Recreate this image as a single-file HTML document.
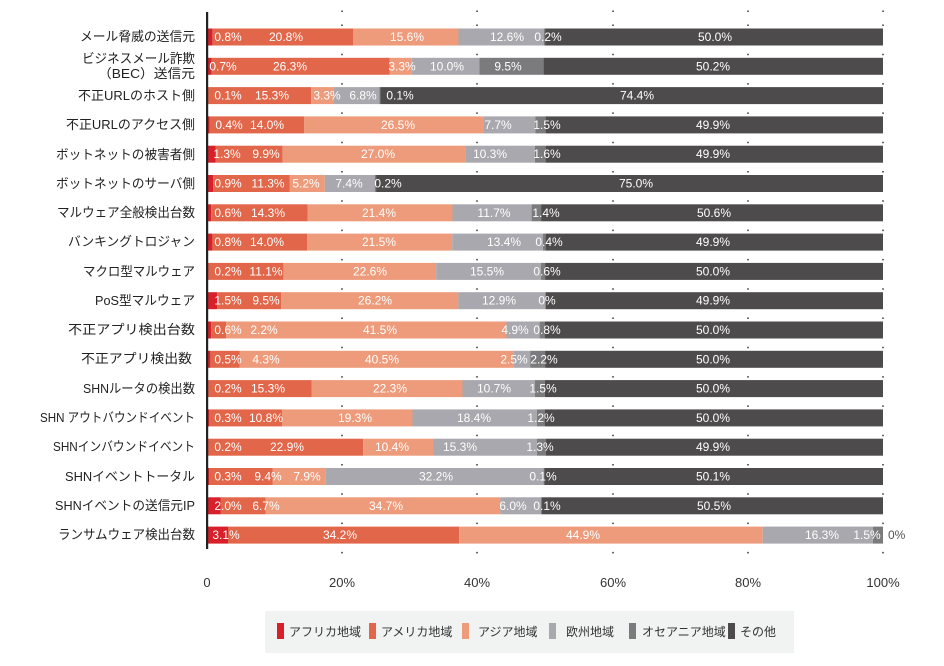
<!DOCTYPE html>
<html><head><meta charset="utf-8"><style>
body{margin:0;background:#fff;}
svg{display:block;font-family:"Liberation Sans","Noto Sans CJK JP",sans-serif;}
.v{fill:#fff;font-size:12px;text-anchor:middle;}
.c{fill:#222;font-size:13px;text-anchor:end;}
.t{fill:#333;font-size:13px;text-anchor:middle;}
.l{fill:#333;font-size:12px;}
</style></head><body>
<svg width="944" height="666" viewBox="0 0 944 666">
<g id="bars">
<g transform="translate(0,28.5)">
<rect x="207" width="5.4" height="17" fill="#d7202a"/><rect x="212.4" width="140.6" height="17" fill="#e2674a"/><rect x="353" width="105.5" height="17" fill="#ed9b7b"/><rect x="458.5" width="85.2" height="17" fill="#a8a8ae"/><rect x="543.7" width="1.4" height="17" fill="#7b7b7e"/><rect x="545.1" width="337.9" height="17" fill="#4d4b4c"/>
<text class="v" y="12.5"><tspan x="228">0.8%</tspan><tspan x="286">20.8%</tspan><tspan x="407">15.6%</tspan><tspan x="507">12.6%</tspan><tspan x="548">0.2%</tspan><tspan x="715">50.0%</tspan></text></g>
<g transform="translate(0,57.8)">
<rect x="207" width="4.7" height="17" fill="#d7202a"/><rect x="211.7" width="177.8" height="17" fill="#e2674a"/><rect x="389.5" width="22.3" height="17" fill="#ed9b7b"/><rect x="411.8" width="67.6" height="17" fill="#a8a8ae"/><rect x="479.4" width="64.2" height="17" fill="#7b7b7e"/><rect x="543.6" width="339.4" height="17" fill="#4d4b4c"/>
<text class="v" y="12.5"><tspan x="223">0.7%</tspan><tspan x="290">26.3%</tspan><tspan x="402">3.3%</tspan><tspan x="447">10.0%</tspan><tspan x="508">9.5%</tspan><tspan x="713">50.2%</tspan></text></g>
<g transform="translate(0,87.1)">
<rect x="207" width="0.7" height="17" fill="#d7202a"/><rect x="207.7" width="103.4" height="17" fill="#e2674a"/><rect x="311.1" width="22.3" height="17" fill="#ed9b7b"/><rect x="333.4" width="46" height="17" fill="#a8a8ae"/><rect x="379.4" width="1" height="17" fill="#7b7b7e"/><rect x="380.4" width="502.6" height="17" fill="#4d4b4c"/>
<text class="v" y="12.5"><tspan x="228">0.1%</tspan><tspan x="272">15.3%</tspan><tspan x="327">3.3%</tspan><tspan x="363">6.8%</tspan><tspan x="400">0.1%</tspan><tspan x="637">74.4%</tspan></text></g>
<g transform="translate(0,116.4)">
<rect x="207" width="2.7" height="17" fill="#d7202a"/><rect x="209.7" width="94.6" height="17" fill="#e2674a"/><rect x="304.3" width="179.1" height="17" fill="#ed9b7b"/><rect x="483.4" width="52.1" height="17" fill="#a8a8ae"/><rect x="535.5" width="10.1" height="17" fill="#7b7b7e"/><rect x="545.6" width="337.4" height="17" fill="#4d4b4c"/>
<text class="v" y="12.5"><tspan x="229">0.4%</tspan><tspan x="267">14.0%</tspan><tspan x="398">26.5%</tspan><tspan x="498">7.7%</tspan><tspan x="547">1.5%</tspan><tspan x="713">49.9%</tspan></text></g>
<g transform="translate(0,145.7)">
<rect x="207" width="8.8" height="17" fill="#d7202a"/><rect x="215.8" width="66.9" height="17" fill="#e2674a"/><rect x="282.7" width="182.5" height="17" fill="#ed9b7b"/><rect x="465.2" width="69.6" height="17" fill="#a8a8ae"/><rect x="534.8" width="10.8" height="17" fill="#7b7b7e"/><rect x="545.6" width="337.4" height="17" fill="#4d4b4c"/>
<text class="v" y="12.5"><tspan x="227">1.3%</tspan><tspan x="266">9.9%</tspan><tspan x="378">27.0%</tspan><tspan x="490">10.3%</tspan><tspan x="547">1.6%</tspan><tspan x="713">49.9%</tspan></text></g>
<g transform="translate(0,175)">
<rect x="207" width="6.1" height="17" fill="#d7202a"/><rect x="213.1" width="76.4" height="17" fill="#e2674a"/><rect x="289.5" width="35.2" height="17" fill="#ed9b7b"/><rect x="324.7" width="50" height="17" fill="#a8a8ae"/><rect x="374.7" width="1.4" height="17" fill="#7b7b7e"/><rect x="376.1" width="506.9" height="17" fill="#4d4b4c"/>
<text class="v" y="12.5"><tspan x="228">0.9%</tspan><tspan x="268">11.3%</tspan><tspan x="306">5.2%</tspan><tspan x="349">7.4%</tspan><tspan x="388">0.2%</tspan><tspan x="636">75.0%</tspan></text></g>
<g transform="translate(0,204.3)">
<rect x="207" width="4.1" height="17" fill="#d7202a"/><rect x="211.1" width="96.7" height="17" fill="#e2674a"/><rect x="307.8" width="144.7" height="17" fill="#ed9b7b"/><rect x="452.5" width="79.1" height="17" fill="#a8a8ae"/><rect x="531.6" width="9.5" height="17" fill="#7b7b7e"/><rect x="541.1" width="341.9" height="17" fill="#4d4b4c"/>
<text class="v" y="12.5"><tspan x="228">0.6%</tspan><tspan x="268">14.3%</tspan><tspan x="379">21.4%</tspan><tspan x="494">11.7%</tspan><tspan x="546">1.4%</tspan><tspan x="714">50.6%</tspan></text></g>
<g transform="translate(0,233.6)">
<rect x="207" width="5.4" height="17" fill="#d7202a"/><rect x="212.4" width="94.6" height="17" fill="#e2674a"/><rect x="307" width="145.3" height="17" fill="#ed9b7b"/><rect x="452.3" width="90.6" height="17" fill="#a8a8ae"/><rect x="542.9" width="2.7" height="17" fill="#7b7b7e"/><rect x="545.6" width="337.4" height="17" fill="#4d4b4c"/>
<text class="v" y="12.5"><tspan x="228">0.8%</tspan><tspan x="267">14.0%</tspan><tspan x="379">21.5%</tspan><tspan x="504">13.4%</tspan><tspan x="549">0.4%</tspan><tspan x="713">49.9%</tspan></text></g>
<g transform="translate(0,262.9)">
<rect x="207" width="1.4" height="17" fill="#d7202a"/><rect x="208.4" width="75" height="17" fill="#e2674a"/><rect x="283.4" width="152.8" height="17" fill="#ed9b7b"/><rect x="436.2" width="104.8" height="17" fill="#a8a8ae"/><rect x="541" width="4.1" height="17" fill="#7b7b7e"/><rect x="545.1" width="337.9" height="17" fill="#4d4b4c"/>
<text class="v" y="12.5"><tspan x="228">0.2%</tspan><tspan x="266">11.1%</tspan><tspan x="370">22.6%</tspan><tspan x="487">15.5%</tspan><tspan x="547">0.6%</tspan><tspan x="713">50.0%</tspan></text></g>
<g transform="translate(0,292.2)">
<rect x="207" width="10.1" height="17" fill="#d7202a"/><rect x="217.1" width="64.2" height="17" fill="#e2674a"/><rect x="281.3" width="177.1" height="17" fill="#ed9b7b"/><rect x="458.4" width="87.2" height="17" fill="#a8a8ae"/><rect x="545.6" width="337.4" height="17" fill="#4d4b4c"/>
<text class="v" y="12.5"><tspan x="228">1.5%</tspan><tspan x="266">9.5%</tspan><tspan x="375">26.2%</tspan><tspan x="499">12.9%</tspan><tspan x="547">0%</tspan><tspan x="713">49.9%</tspan></text></g>
<g transform="translate(0,321.5)">
<rect x="207" width="4.1" height="17" fill="#d7202a"/><rect x="211.1" width="14.9" height="17" fill="#e2674a"/><rect x="226" width="280.5" height="17" fill="#ed9b7b"/><rect x="506.5" width="33.1" height="17" fill="#a8a8ae"/><rect x="539.6" width="5.4" height="17" fill="#7b7b7e"/><rect x="545" width="338" height="17" fill="#4d4b4c"/>
<text class="v" y="12.5"><tspan x="228">0.6%</tspan><tspan x="264">2.2%</tspan><tspan x="380">41.5%</tspan><tspan x="515">4.9%</tspan><tspan x="547">0.8%</tspan><tspan x="713">50.0%</tspan></text></g>
<g transform="translate(0,350.8)">
<rect x="207" width="3.4" height="17" fill="#d7202a"/><rect x="210.4" width="29.1" height="17" fill="#e2674a"/><rect x="239.5" width="273.8" height="17" fill="#ed9b7b"/><rect x="513.3" width="16.9" height="17" fill="#a8a8ae"/><rect x="530.2" width="14.9" height="17" fill="#7b7b7e"/><rect x="545.1" width="337.9" height="17" fill="#4d4b4c"/>
<text class="v" y="12.5"><tspan x="228">0.5%</tspan><tspan x="266">4.3%</tspan><tspan x="382">40.5%</tspan><tspan x="514">2.5%</tspan><tspan x="544">2.2%</tspan><tspan x="713">50.0%</tspan></text></g>
<g transform="translate(0,380.1)">
<rect x="207" width="1.4" height="17" fill="#d7202a"/><rect x="208.4" width="103.4" height="17" fill="#e2674a"/><rect x="311.8" width="150.7" height="17" fill="#ed9b7b"/><rect x="462.5" width="72.3" height="17" fill="#a8a8ae"/><rect x="534.8" width="10.1" height="17" fill="#7b7b7e"/><rect x="544.9" width="338.1" height="17" fill="#4d4b4c"/>
<text class="v" y="12.5"><tspan x="228">0.2%</tspan><tspan x="268">15.3%</tspan><tspan x="390">22.3%</tspan><tspan x="494">10.7%</tspan><tspan x="543">1.5%</tspan><tspan x="713">50.0%</tspan></text></g>
<g transform="translate(0,409.4)">
<rect x="207" width="2" height="17" fill="#d7202a"/><rect x="209" width="73" height="17" fill="#e2674a"/><rect x="282" width="130.5" height="17" fill="#ed9b7b"/><rect x="412.5" width="124.4" height="17" fill="#a8a8ae"/><rect x="536.9" width="8.1" height="17" fill="#7b7b7e"/><rect x="545" width="338" height="17" fill="#4d4b4c"/>
<text class="v" y="12.5"><tspan x="228">0.3%</tspan><tspan x="266">10.8%</tspan><tspan x="355">19.3%</tspan><tspan x="474">18.4%</tspan><tspan x="541">1.2%</tspan><tspan x="713">50.0%</tspan></text></g>
<g transform="translate(0,438.7)">
<rect x="207" width="1.4" height="17" fill="#d7202a"/><rect x="208.4" width="154.8" height="17" fill="#e2674a"/><rect x="363.2" width="70.3" height="17" fill="#ed9b7b"/><rect x="433.5" width="103.4" height="17" fill="#a8a8ae"/><rect x="536.9" width="8.8" height="17" fill="#7b7b7e"/><rect x="545.7" width="337.3" height="17" fill="#4d4b4c"/>
<text class="v" y="12.5"><tspan x="228">0.2%</tspan><tspan x="287">22.9%</tspan><tspan x="392">10.4%</tspan><tspan x="460">15.3%</tspan><tspan x="540">1.3%</tspan><tspan x="713">49.9%</tspan></text></g>
<g transform="translate(0,468)">
<rect x="207" width="2" height="17" fill="#d7202a"/><rect x="209" width="63.5" height="17" fill="#e2674a"/><rect x="272.5" width="53.4" height="17" fill="#ed9b7b"/><rect x="325.9" width="217.7" height="17" fill="#a8a8ae"/><rect x="543.6" width="0.7" height="17" fill="#7b7b7e"/><rect x="544.3" width="338.7" height="17" fill="#4d4b4c"/>
<text class="v" y="12.5"><tspan x="228">0.3%</tspan><tspan x="268">9.4%</tspan><tspan x="307">7.9%</tspan><tspan x="436">32.2%</tspan><tspan x="543">0.1%</tspan><tspan x="713">50.1%</tspan></text></g>
<g transform="translate(0,497.3)">
<rect x="207" width="13.5" height="17" fill="#d7202a"/><rect x="220.5" width="45.3" height="17" fill="#e2674a"/><rect x="265.8" width="234.6" height="17" fill="#ed9b7b"/><rect x="500.4" width="40.6" height="17" fill="#a8a8ae"/><rect x="541" width="0.7" height="17" fill="#7b7b7e"/><rect x="541.7" width="341.3" height="17" fill="#4d4b4c"/>
<text class="v" y="12.5"><tspan x="228">2.0%</tspan><tspan x="266">6.7%</tspan><tspan x="386">34.7%</tspan><tspan x="513">6.0%</tspan><tspan x="547">0.1%</tspan><tspan x="714">50.5%</tspan></text></g>
<g transform="translate(0,526.6)">
<rect x="207" width="21" height="17" fill="#d7202a"/><rect x="228" width="231.2" height="17" fill="#e2674a"/><rect x="459.2" width="303.5" height="17" fill="#ed9b7b"/><rect x="762.7" width="110.2" height="17" fill="#a8a8ae"/><rect x="872.9" width="10.1" height="17" fill="#7b7b7e"/>
<text class="v" y="12.5"><tspan x="226">3.1%</tspan><tspan x="340">34.2%</tspan><tspan x="583">44.9%</tspan><tspan x="822">16.3%</tspan><tspan x="867">1.5%</tspan></text>
<text x="888" y="12.5" style="fill:#555;font-size:12px">0%</text></g>
</g>
<g stroke="#333" stroke-width="1.5" stroke-dasharray="1.5 27.8">
<line x1="342" y1="24.5" x2="342" y2="570"/>
<line x1="477" y1="24.5" x2="477" y2="570"/>
<line x1="613" y1="24.5" x2="613" y2="570"/>
<line x1="748" y1="24.5" x2="748" y2="570"/>
<line x1="883" y1="24.5" x2="883" y2="570"/>
</g>
<g fill="#333">
<rect x="341.3" y="10.5" width="1.5" height="1.5"/><rect x="476.3" y="10.5" width="1.5" height="1.5"/><rect x="612.3" y="10.5" width="1.5" height="1.5"/><rect x="747.3" y="10.5" width="1.5" height="1.5"/><rect x="882.3" y="10.5" width="1.5" height="1.5"/>
</g>
<rect x="206" y="12" width="2.2" height="537" fill="#222"/>
<g class="c">
<text x="195" y="41" textLength="115" lengthAdjust="spacingAndGlyphs">メール脅威の送信元</text>
<text x="195" y="63" textLength="113" lengthAdjust="spacingAndGlyphs">ビジネスメール詐欺</text>
<text x="195" y="78" textLength="97" lengthAdjust="spacingAndGlyphs">（BEC）送信元</text>
<text x="195" y="100" textLength="117" lengthAdjust="spacingAndGlyphs">不正URLのホスト側</text>
<text x="195" y="129" textLength="129" lengthAdjust="spacingAndGlyphs">不正URLのアクセス側</text>
<text x="195" y="159" textLength="139" lengthAdjust="spacingAndGlyphs">ボットネットの被害者側</text>
<text x="195" y="188" textLength="139" lengthAdjust="spacingAndGlyphs">ボットネットのサーバ側</text>
<text x="195" y="217" textLength="138" lengthAdjust="spacingAndGlyphs">マルウェア全般検出台数</text>
<text x="195" y="246" textLength="127" lengthAdjust="spacingAndGlyphs">バンキングトロジャン</text>
<text x="195" y="276" textLength="112" lengthAdjust="spacingAndGlyphs">マクロ型マルウェア</text>
<text x="195" y="305" textLength="100" lengthAdjust="spacingAndGlyphs">PoS型マルウェア</text>
<text x="195" y="334" textLength="127" lengthAdjust="spacingAndGlyphs">不正アプリ検出台数</text>
<text x="192" y="363" textLength="111" lengthAdjust="spacingAndGlyphs">不正アプリ検出数</text>
<text x="195" y="393" textLength="112" lengthAdjust="spacingAndGlyphs">SHNルータの検出数</text>
<text x="195" y="422" textLength="155" lengthAdjust="spacingAndGlyphs">SHN アウトバウンドイベント</text>
<text x="195" y="451" textLength="142" lengthAdjust="spacingAndGlyphs">SHNインバウンドイベント</text>
<text x="195" y="481" textLength="130" lengthAdjust="spacingAndGlyphs">SHNイベントトータル</text>
<text x="195" y="510" textLength="140" lengthAdjust="spacingAndGlyphs">SHNイベントの送信元IP</text>
<text x="195" y="539" textLength="137" lengthAdjust="spacingAndGlyphs">ランサムウェア検出台数</text>
</g>
<g class="t">
<text x="207" y="587">0</text><text x="342" y="587">20%</text><text x="477" y="587">40%</text><text x="613" y="587">60%</text><text x="748" y="587">80%</text><text x="883" y="587">100%</text>
</g>
<rect x="265" y="611" width="529" height="42" fill="#f1f2f2"/>
<rect x="277" y="623" width="7" height="16" fill="#d7202a"/><text class="l" x="289" y="636">アフリカ地域</text>
<rect x="369" y="623" width="7" height="16" fill="#e2674a"/><text class="l" x="381" y="636">アメリカ地域</text>
<rect x="462" y="623" width="7" height="16" fill="#ed9b7b"/><text class="l" x="478" y="636">アジア地域</text>
<rect x="549" y="623" width="7" height="16" fill="#a8a8ae"/><text class="l" x="566" y="636">欧州地域</text>
<rect x="629" y="623" width="7" height="16" fill="#7b7b7e"/><text class="l" x="642" y="636">オセアニア地域</text>
<rect x="728" y="623" width="7" height="16" fill="#4d4b4c"/><text class="l" x="740" y="636">その他</text>
</svg>
</body></html>
